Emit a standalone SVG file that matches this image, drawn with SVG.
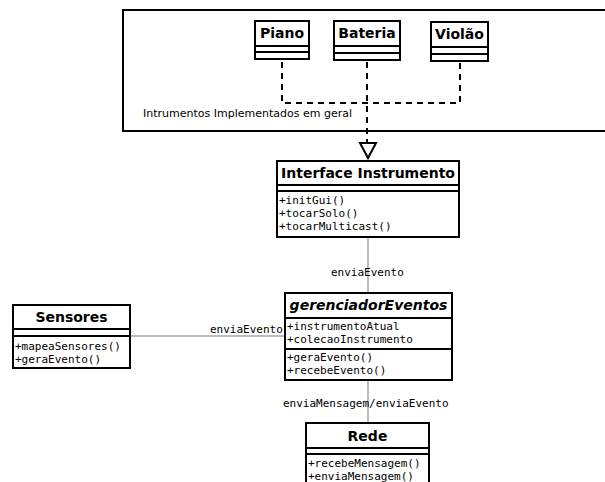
<svg xmlns="http://www.w3.org/2000/svg" width="605" height="482" viewBox="0 0 605 482">
<defs>
<style>
.box{fill:#fff;stroke:#000;stroke-width:2}
.sep{stroke:#000;stroke-width:2}
.title{font-family:"DejaVu Sans",sans-serif;font-weight:bold;font-size:14px;text-anchor:middle;fill:#000}
.mem{font-family:"DejaVu Sans Mono",monospace;font-size:11px;fill:#000}
.lbl{font-family:"DejaVu Sans Mono",monospace;font-size:11px;fill:#000}
.conn{stroke:#bbb;stroke-width:2;fill:none}
.dash{stroke:#000;stroke-width:2;stroke-dasharray:6,5;fill:none}
</style>
</defs>
<rect width="605" height="482" fill="#fff"/>
<g id="frame">
<path d="M606,10 H123 V131 H606" fill="none" stroke="#000" stroke-width="2"/>
<text x="143" y="117" font-family="DejaVu Sans,sans-serif" font-size="11" fill="#000">Intrumentos Implementados em geral</text>
</g>
<g id="connectors">
<path class="dash" d="M282,62 V103 H460 V62"/>
<path class="dash" d="M367,62 V143"/>
<polygon points="360,143 376,143 368,158" fill="#fff" stroke="#000" stroke-width="2"/>
<line class="conn" x1="368" y1="237" x2="368" y2="293"/>
<text class="lbl" x="331" y="276">enviaEvento</text>
<line class="conn" x1="130" y1="336" x2="285" y2="336"/>
<text class="lbl" x="210" y="333">enviaEvento</text>
<line class="conn" x1="368" y1="380" x2="368" y2="423"/>
<text class="lbl" x="283" y="407">enviaMensagem/enviaEvento</text>
</g>
<g id="piano">
<rect class="box" x="255" y="21" width="54" height="38"/>
<line class="sep" x1="255" y1="46" x2="309" y2="46"/>
<line class="sep" x1="255" y1="52" x2="309" y2="52"/>
<text class="title" x="282" y="38">Piano</text>
</g>
<g id="bateria">
<rect class="box" x="334" y="21" width="66" height="39"/>
<line class="sep" x1="334" y1="46" x2="400" y2="46"/>
<line class="sep" x1="334" y1="53" x2="400" y2="53"/>
<text class="title" x="367" y="38">Bateria</text>
</g>
<g id="violao">
<rect class="box" x="431" y="22" width="57" height="39"/>
<line class="sep" x1="431" y1="47" x2="488" y2="47"/>
<line class="sep" x1="431" y1="54" x2="488" y2="54"/>
<text class="title" x="459.5" y="39">Violão</text>
</g>
<g id="interface">
<rect class="box" x="277" y="161" width="182" height="76"/>
<line class="sep" x1="277" y1="185" x2="459" y2="185"/>
<line class="sep" x1="277" y1="191" x2="459" y2="191"/>
<text class="title" x="368" y="178">Interface Instrumento</text>
<text class="mem" x="279" y="204">+initGui()</text>
<text class="mem" x="279" y="217">+tocarSolo()</text>
<text class="mem" x="279" y="230">+tocarMulticast()</text>
</g>
<g id="gerenciador">
<rect class="box" x="285" y="293" width="167" height="87"/>
<line class="sep" x1="285" y1="318" x2="452" y2="318"/>
<line class="sep" x1="285" y1="349" x2="452" y2="349"/>
<text class="title" x="368.5" y="310" font-style="italic">gerenciadorEventos</text>
<text class="mem" x="287" y="330">+instrumentoAtual</text>
<text class="mem" x="287" y="343">+colecaoInstrumento</text>
<text class="mem" x="287" y="361">+geraEvento()</text>
<text class="mem" x="287" y="374">+recebeEvento()</text>
</g>
<g id="sensores">
<rect class="box" x="13" y="305" width="117" height="63"/>
<line class="sep" x1="13" y1="329" x2="130" y2="329"/>
<line class="sep" x1="13" y1="336" x2="130" y2="336"/>
<text class="title" x="71.5" y="322">Sensores</text>
<text class="mem" x="15" y="350">+mapeaSensores()</text>
<text class="mem" x="15" y="363">+geraEvento()</text>
</g>
<g id="rede">
<rect class="box" x="306" y="423" width="123" height="70"/>
<line class="sep" x1="306" y1="448" x2="429" y2="448"/>
<line class="sep" x1="306" y1="454" x2="429" y2="454"/>
<text class="title" x="367.5" y="441">Rede</text>
<text class="mem" x="308" y="467">+recebeMensagem()</text>
<text class="mem" x="308" y="480">+enviaMensagem()</text>
</g>
</svg>
